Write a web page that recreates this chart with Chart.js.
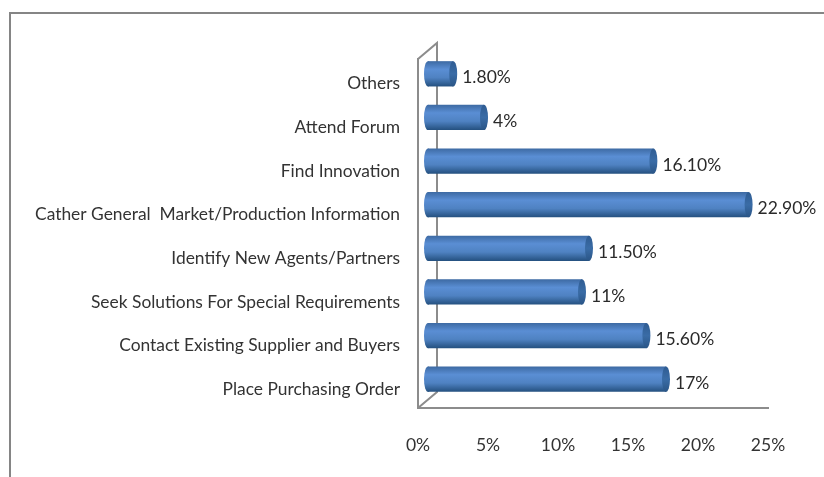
<!DOCTYPE html>
<html>
<head>
<meta charset="utf-8">
<script src="https://cdn.jsdelivr.net/npm/chart.js@4"></script>
<style>
    html, body { margin: 0; padding: 0; background: #fff; }
    #wrap { position: relative; width: 824px; height: 477px; overflow: hidden; }
    #frame { position: absolute; left: 9px; top: 12px; width: 813px; height: 470px; border-top: 2px solid #858585; border-left: 2px solid #858585; }
</style>
</head>
<body>
<div id="wrap">
    <div id="frame"></div>
    <canvas id="chart" width="824" height="477"></canvas>
</div>
<script>
// Chart data
const categories = [
    'Others',
    'Attend Forum',
    'Find Innovation',
    'Cather General  Market/Production Information',
    'Identify New Agents/Partners',
    'Seek Solutions For Special Requirements',
    'Contact Existing Supplier and Buyers',
    'Place Purchasing Order'
];
const shares = [1.8, 4, 16.1, 22.9, 11.5, 11, 15.6, 17];
const shareLabels = ['1.80%', '4%', '16.10%', '22.90%', '11.50%', '11%', '15.60%', '17%'];

const FONT = 'Lato, sans-serif';
const GREY = '#8c8c8c';

// Depth of the fake 3D box
const depthX = 19;
const depthY = 16;
// Bars sit part way into the box
const barShiftX = 10;
const barShiftY = -7;
const capRadius = 4;

function barGradient(ctx, top, bottom) {
    const g = ctx.createLinearGradient(0, top, 0, bottom);
    g.addColorStop(0, '#3d6aa3');
    g.addColorStop(0.32, '#5a8ed4');
    g.addColorStop(0.65, '#4f82c2');
    g.addColorStop(1, '#24507f');
    return g;
}

const box3d = {
    id: 'box3d',
    beforeDatasetsDraw(chart) {
        const { ctx, chartArea: a } = chart;
        // back wall edges and floor
        ctx.save();
        ctx.strokeStyle = GREY;
        ctx.lineWidth = 2;
        ctx.beginPath();
        ctx.moveTo(a.left, a.top);
        ctx.lineTo(a.left + depthX, a.top - depthY);
        ctx.lineTo(a.left + depthX, a.bottom - depthY);
        ctx.lineTo(a.left, a.bottom);
        ctx.stroke();
        ctx.restore();

        // left end of each cylinder goes under the bar
        ctx.save();
        ctx.translate(barShiftX, barShiftY);
        chart.getDatasetMeta(0).data.forEach(bar => {
            const h = bar.height / 2;
            ctx.fillStyle = barGradient(ctx, bar.y - h, bar.y + h);
            ctx.beginPath();
            ctx.ellipse(bar.base, bar.y, capRadius, h, 0, 0, Math.PI * 2);
            ctx.fill();
        });
        ctx.restore();

        ctx.save();
        ctx.translate(barShiftX, barShiftY);
    },
    afterDatasetsDraw(chart) {
        const { ctx } = chart;
        ctx.restore();

        const bars = chart.getDatasetMeta(0).data;
        bars.forEach((bar, i) => {
            const h = bar.height / 2;
            const cx = bar.x + barShiftX;
            const cy = bar.y + barShiftY;
            const g = ctx.createLinearGradient(0, cy - h, 0, cy + h);
            g.addColorStop(0, '#2f5c92');
            g.addColorStop(0.5, '#3a6ca6');
            g.addColorStop(1, '#2a5586');
            ctx.fillStyle = g;
            ctx.beginPath();
            ctx.ellipse(cx, cy, capRadius, h, 0, 0, Math.PI * 2);
            ctx.fill();

            ctx.fillStyle = '#2a2a2a';
            ctx.font = '17.5px ' + FONT;
            ctx.textAlign = 'left';
            ctx.textBaseline = 'middle';
            ctx.fillText(shareLabels[i], cx + capRadius + 5, cy + 4);
        });
    }
};

const ctx = document.getElementById('chart').getContext('2d');
const chart = new Chart(ctx, {
    type: 'bar',
    data: {
        labels: categories,
        datasets: [{
            data: shares,
            barPercentage: 0.58,
            categoryPercentage: 1,
            backgroundColor(c) {
                const chart = c.chart;
                if (!chart.chartArea) return '#4a7ab8';
                const y = chart.scales.y.getPixelForValue(c.dataIndex);
                return barGradient(chart.ctx, y - 12.6, y + 12.6);
            }
        }]
    },
    plugins: [box3d],
    options: {
        indexAxis: 'y',
        responsive: false,
        animation: false,
        events: [],
        layout: { padding: { top: 59, right: 56, left: 0, bottom: 0 } },
        plugins: {
            legend: { display: false },
            title: { display: false },
            tooltip: { enabled: false }
        },
        scales: {
            x: {
                min: 0,
                max: 25,
                grid: { display: false, drawTicks: false },
                border: { display: true, color: GREY, width: 2 },
                ticks: {
                    stepSize: 5,
                    padding: 27,
                    color: '#333',
                    font: { family: FONT, size: 17.5 },
                    maxRotation: 0,
                    callback: v => v + '%'
                },
                afterFit(scale) { scale.height = 69; }
            },
            y: {
                grid: { display: false, drawTicks: false },
                border: { display: true, color: GREY, width: 2 },
                ticks: {
                    padding: 18,
                    labelOffset: 3,
                    color: '#333',
                    autoSkip: false,
                    font: { family: FONT, size: 17.4 }
                },
                afterFit(scale) { scale.width = 418; }
            }
        }
    }
});
</script>
</body>
</html>
